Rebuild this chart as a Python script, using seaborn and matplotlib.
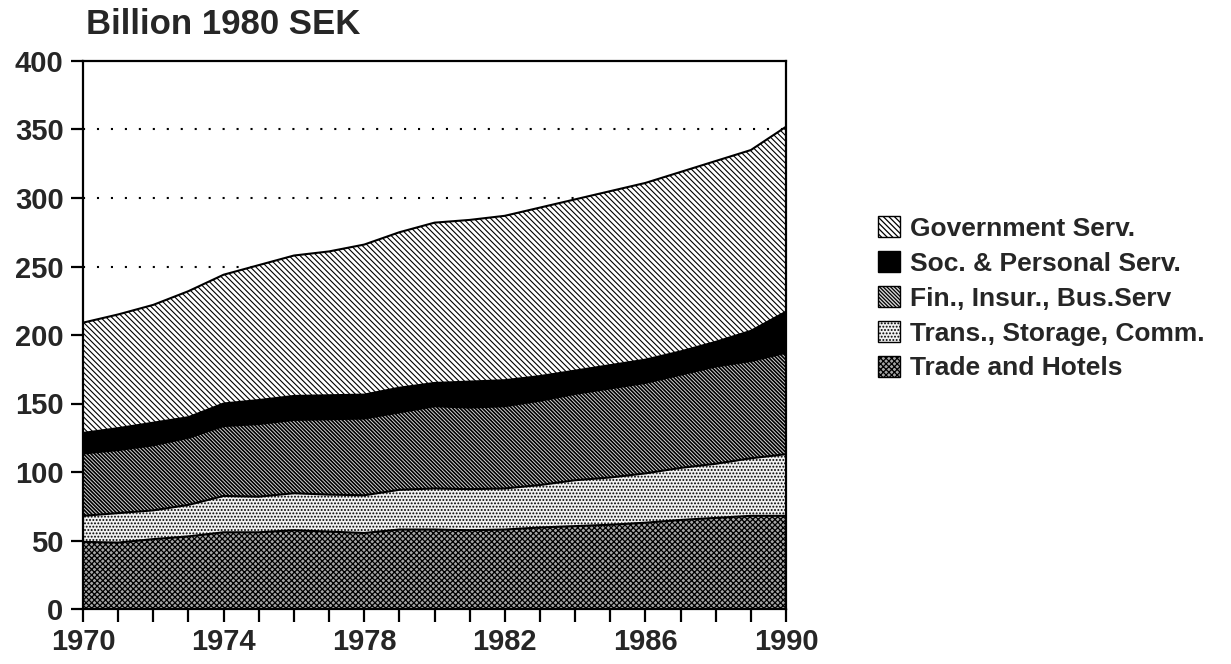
import numpy as np
import pandas as pd
import matplotlib
matplotlib.use("Agg")
import matplotlib.pyplot as plt
from matplotlib.patches import Patch
from matplotlib.ticker import MultipleLocator
import seaborn as sns

# ---- data (Billion 1980 SEK) ----
years = list(range(1970, 1991))
trade = [49, 48.5, 51, 53, 56, 56, 57.5, 56.5, 55.5, 58, 58, 57.5, 58, 59.5, 60.5, 61.5, 63, 65, 66.5, 68, 68]
trans = [19, 21.5, 21, 23, 26.5, 26, 27, 27, 27.5, 29, 30, 30, 30, 31, 33.5, 34.5, 36, 38, 39.5, 42, 45]
fin = [45.5, 46, 47.5, 49, 51, 53, 53.5, 55, 56, 56.5, 60, 59.5, 60, 61.5, 63, 65, 66, 68, 71, 71, 74]
soc = [15, 16, 16.5, 15, 16.5, 17.5, 17.5, 17.5, 17.5, 18, 17, 19, 19, 18, 17, 17, 17, 17, 18, 22, 30]
gov = [80.5, 83, 86, 92, 94, 98.5, 102.5, 105, 109.5, 113.5, 117, 118, 120, 123, 125, 127, 129, 131, 132, 132, 135]
series_names = ["Trade and Hotels", "Trans., Storage, Comm.", "Fin., Insur., Bus.Serv",
                "Soc. & Personal Serv.", "Government Serv."]
x_tick_labels = ["1970", "1974", "1978", "1982", "1986", "1990"]
y_ticks = [0, 50, 100, 150, 200, 250, 300, 350, 400]
title_text = "Billion 1980 SEK"

sns.set_theme(style="ticks")
plt.rcParams["font.family"] = ["Liberation Sans", "DejaVu Sans"]
plt.rcParams["font.weight"] = "bold"
plt.rcParams["hatch.linewidth"] = 0.9

W, H = 1231, 664
fig = plt.figure(figsize=(W / 100, H / 100), dpi=100)
ax = fig.add_axes([83 / W, 1 - 609 / H, (786 - 83) / W, (609 - 61) / H])

layers = [trade, trans, fin, soc, gov]
faces = ["#a6a6a6", "#f2f2f2", "#d8d8d8", "black", "white"]
hatches = ["xxxxxx", ".....", "\\" * 9, "", "\\" * 6]
hatch_lw = [0.9, 0.9, 1.2, 0.9, 0.8]

polys = ax.stackplot(years, *layers, colors=faces, edgecolor="black",
                     linewidth=0, zorder=2)
for p, h, hl in zip(polys, hatches, hatch_lw):
    p.set_hatch(h)
    if hasattr(p, "set_hatch_linewidth"):
        p.set_hatch_linewidth(hl)

# boundary lines between layers
cum = np.cumsum(np.array(layers, dtype=float), axis=0)
rows = []
for name, vals in zip(series_names, cum):
    for yr, v in zip(years, vals):
        rows.append({"year": yr, "value": v, "layer": name})
df = pd.DataFrame(rows)
sns.lineplot(data=df, x="year", y="value", units="layer", estimator=None,
             color="black", linewidth=1.5, ax=ax, legend=False, zorder=3)

# dotted grid
for yv in y_ticks[1:-1]:
    ax.axhline(yv, color="black", linewidth=1.5, linestyle=(0, (1, 5.7)), zorder=1)

ax.set_xlim(1970, 1990)
ax.set_ylim(0, 400)
ax.set_yticks(y_ticks)
ax.set_xticks([int(t) for t in x_tick_labels])
ax.set_xticklabels(x_tick_labels)
ax.xaxis.set_minor_locator(MultipleLocator(1))
ax.set_xlabel("")
ax.set_ylabel("")
ax.tick_params(axis="both", which="both", direction="out", length=9, width=1.6,
               color="black", labelsize=21, pad=5)
ax.tick_params(axis="x", which="both", pad=5)
for lab in ax.get_xticklabels() + ax.get_yticklabels():
    lab.set_fontweight("bold")
for s in ax.spines.values():
    s.set_visible(True)
    s.set_color("black")
    s.set_linewidth(1.6)

# legend
handles = []
for f, h, hl in zip(faces, hatches, hatch_lw):
    ph = Patch(facecolor=f, hatch=h, edgecolor="black", linewidth=1.0)
    if hasattr(ph, "set_hatch_linewidth"):
        ph.set_hatch_linewidth(hl)
    handles.append(ph)
ax.legend(handles[::-1], series_names[::-1], loc="upper left",
          bbox_to_anchor=(878 / W, 1 - 216 / H), bbox_transform=fig.transFigure,
          frameon=False, prop={"size": 19, "weight": "bold"},
          handlelength=0.85, handleheight=0.85, handletextpad=0.35,
          labelspacing=0.39, borderpad=0, borderaxespad=0)

fig.text(86 / W, 1 - 34 / H, title_text, fontsize=25, fontweight="bold",
         va="baseline", ha="left")

fig.savefig("out.png", dpi=100)
